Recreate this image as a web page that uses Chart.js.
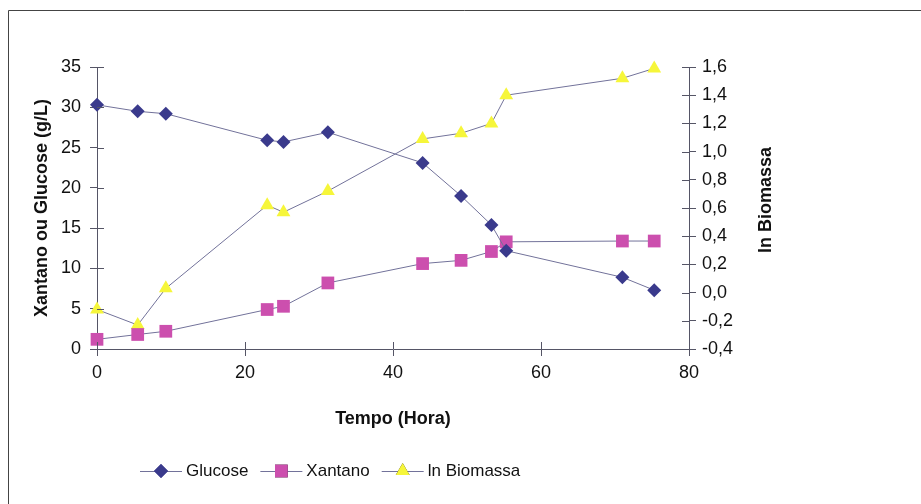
<!DOCTYPE html>
<html>
<head>
<meta charset="utf-8">
<script src="https://cdn.jsdelivr.net/npm/chart.js@4.4.1/dist/chart.umd.min.js"></script>
<style>
  html, body { margin: 0; padding: 0; background: #fff; }
  #wrap { width: 921px; height: 504px; position: relative; }
</style>
</head>
<body>
<div id="wrap"><canvas id="kineticsChart"></canvas></div>
<script>
const tempo = [0, 5.5, 9.3, 23, 25.2, 31.2, 44, 49.2, 53.3, 55.3, 71, 75.3];
const glucose = [30.3, 29.5, 29.2, 25.9, 25.7, 26.9, 23.1, 19.0, 15.4, 12.2, 8.9, 7.3];
const xantano = [1.2, 1.8, 2.2, 4.9, 5.3, 8.2, 10.6, 11.0, 12.1, 13.3, 13.4, 13.4];
const lnBiomassa = [-0.12, -0.23, 0.03, 0.62, 0.57, 0.72, 1.09, 1.13, 1.20, 1.40, 1.52, 1.59];
const seriesNames = ['Glucose', 'Xantano', 'ln Biomassa'];
const rightTitle = 'ln Biomassa';

const lineColor = '#72729a';
const axisColor = '#555566';
const fontFamily = 'Arial, "Liberation Sans", sans-serif';

function pairs(xs, ys) {
    return xs.map(function(x, i) { return { x: x, y: ys[i] }; });
}

// marcas de escala cruzadas (estilo Excel), título direito e legenda
const crossTicks = {
    id: 'crossTicks',
    afterDraw: function(chart) {
        const ctx = chart.ctx;
        const area = chart.chartArea;
        const len = 7;
        ctx.save();
        ctx.strokeStyle = axisColor;
        ctx.lineWidth = 1;
        ctx.beginPath();
        chart.scales.x.ticks.forEach(function(t) {
            const px = Math.round(chart.scales.x.getPixelForValue(t.value)) + 0.5;
            ctx.moveTo(px, area.bottom);
            ctx.lineTo(px, area.bottom - len);
        });
        chart.scales.y.ticks.forEach(function(t) {
            const py = Math.round(chart.scales.y.getPixelForValue(t.value)) + 0.5;
            ctx.moveTo(area.left, py);
            ctx.lineTo(area.left + len, py);
        });
        chart.scales.y1.ticks.forEach(function(t) {
            const py = Math.round(chart.scales.y1.getPixelForValue(t.value)) + 0.5;
            ctx.moveTo(area.right, py);
            ctx.lineTo(area.right - len, py);
        });
        ctx.stroke();

        // moldura do gráfico
        ctx.strokeStyle = '#444';
        ctx.beginPath();
        ctx.moveTo(8.5, 504);
        ctx.lineTo(8.5, 10.5);
        ctx.lineTo(921, 10.5);
        ctx.stroke();

        // título do eixo direito, lido de baixo para cima
        ctx.save();
        ctx.translate(766, (area.top + area.bottom) / 2 - 8);
        ctx.rotate(-Math.PI / 2);
        ctx.font = 'bold 18px ' + fontFamily;
        ctx.fillStyle = '#111';
        ctx.textAlign = 'center';
        ctx.textBaseline = 'middle';
        ctx.fillText(rightTitle, 0, 0);
        ctx.restore();

        // legenda
        const ly = 471;
        let lx = 140;
        ctx.font = '17px ' + fontFamily;
        ctx.textBaseline = 'middle';
        chart.data.datasets.forEach(function(ds) {
            ctx.strokeStyle = lineColor;
            ctx.beginPath();
            ctx.moveTo(lx, ly + 0.5);
            ctx.lineTo(lx + 42, ly + 0.5);
            ctx.stroke();
            Chart.helpers.drawPoint(ctx, {
                pointStyle: ds.pointStyle,
                radius: ds.pointRadius,
                rotation: 0,
                borderWidth: 0
            }, lx + 21, ly);
            ctx.fillStyle = ds.pointBackgroundColor;
            ctx.fill();
            ctx.fillStyle = '#111';
            ctx.fillText(ds.label, lx + 46, ly);
            lx += 46 + ctx.measureText(ds.label).width + 12;
        });
        ctx.restore();
    }
};

document.addEventListener('DOMContentLoaded', function() {
    const ctx = document.getElementById('kineticsChart').getContext('2d');
    Chart.defaults.font.family = fontFamily;
    Chart.defaults.color = '#111';

    new Chart(ctx, {
        type: 'line',
        data: {
            datasets: [{
                label: seriesNames[0],
                data: pairs(tempo, glucose),
                yAxisID: 'y',
                borderColor: lineColor,
                borderWidth: 1,
                pointStyle: 'rectRot',
                pointRadius: 7,
                pointBackgroundColor: '#3a3a8c',
                pointBorderWidth: 0,
                clip: false
            }, {
                label: seriesNames[1],
                data: pairs(tempo, xantano),
                yAxisID: 'y',
                borderColor: lineColor,
                borderWidth: 1,
                pointStyle: 'rect',
                pointRadius: 9,
                pointBackgroundColor: '#cc4fae',
                pointBorderWidth: 0,
                clip: false
            }, {
                label: seriesNames[2],
                data: pairs(tempo, lnBiomassa),
                yAxisID: 'y1',
                borderColor: lineColor,
                borderWidth: 1,
                pointStyle: 'triangle',
                pointRadius: 8,
                pointBackgroundColor: '#f6f63a',
                pointBorderWidth: 0,
                clip: false
            }]
        },
        options: {
            responsive: true,
            maintainAspectRatio: false,
            animation: false,
            layout: { padding: { left: 27, right: 141, top: 67, bottom: 70 } },
            plugins: {
                legend: { display: false },
                tooltip: { enabled: false }
            },
            scales: {
                x: {
                    type: 'linear',
                    min: 0,
                    max: 80,
                    ticks: { stepSize: 20, padding: 6, font: { size: 18 }, maxRotation: 0 },
                    grid: { drawOnChartArea: false, tickLength: 7, color: axisColor },
                    border: { color: axisColor },
                    title: { display: true, text: 'Tempo (Hora)', font: { size: 18, weight: 'bold' }, padding: 4 },
                    afterFit: function(s) { s.height = 85; }
                },
                y: {
                    position: 'left',
                    min: 0,
                    max: 35,
                    ticks: { stepSize: 5, padding: 9, font: { size: 18 } },
                    grid: { drawOnChartArea: false, tickLength: 7, color: axisColor },
                    border: { color: axisColor },
                    title: { display: true, text: 'Xantano ou Glucose (g/L)', font: { size: 18, weight: 'bold' }, padding: 4 },
                    afterFit: function(s) { s.width = 70; }
                },
                y1: {
                    position: 'right',
                    min: -0.4,
                    max: 1.6,
                    ticks: {
                        stepSize: 0.2,
                        padding: 6,
                        font: { size: 18 },
                        callback: function(v) { return v.toFixed(1).replace('.', ','); }
                    },
                    grid: { drawOnChartArea: false, tickLength: 7, color: axisColor },
                    border: { color: axisColor },
                    afterFit: function(s) { s.width = 91; }
                }
            }
        },
        plugins: [crossTicks]
    });
});
</script>
</body>
</html>
